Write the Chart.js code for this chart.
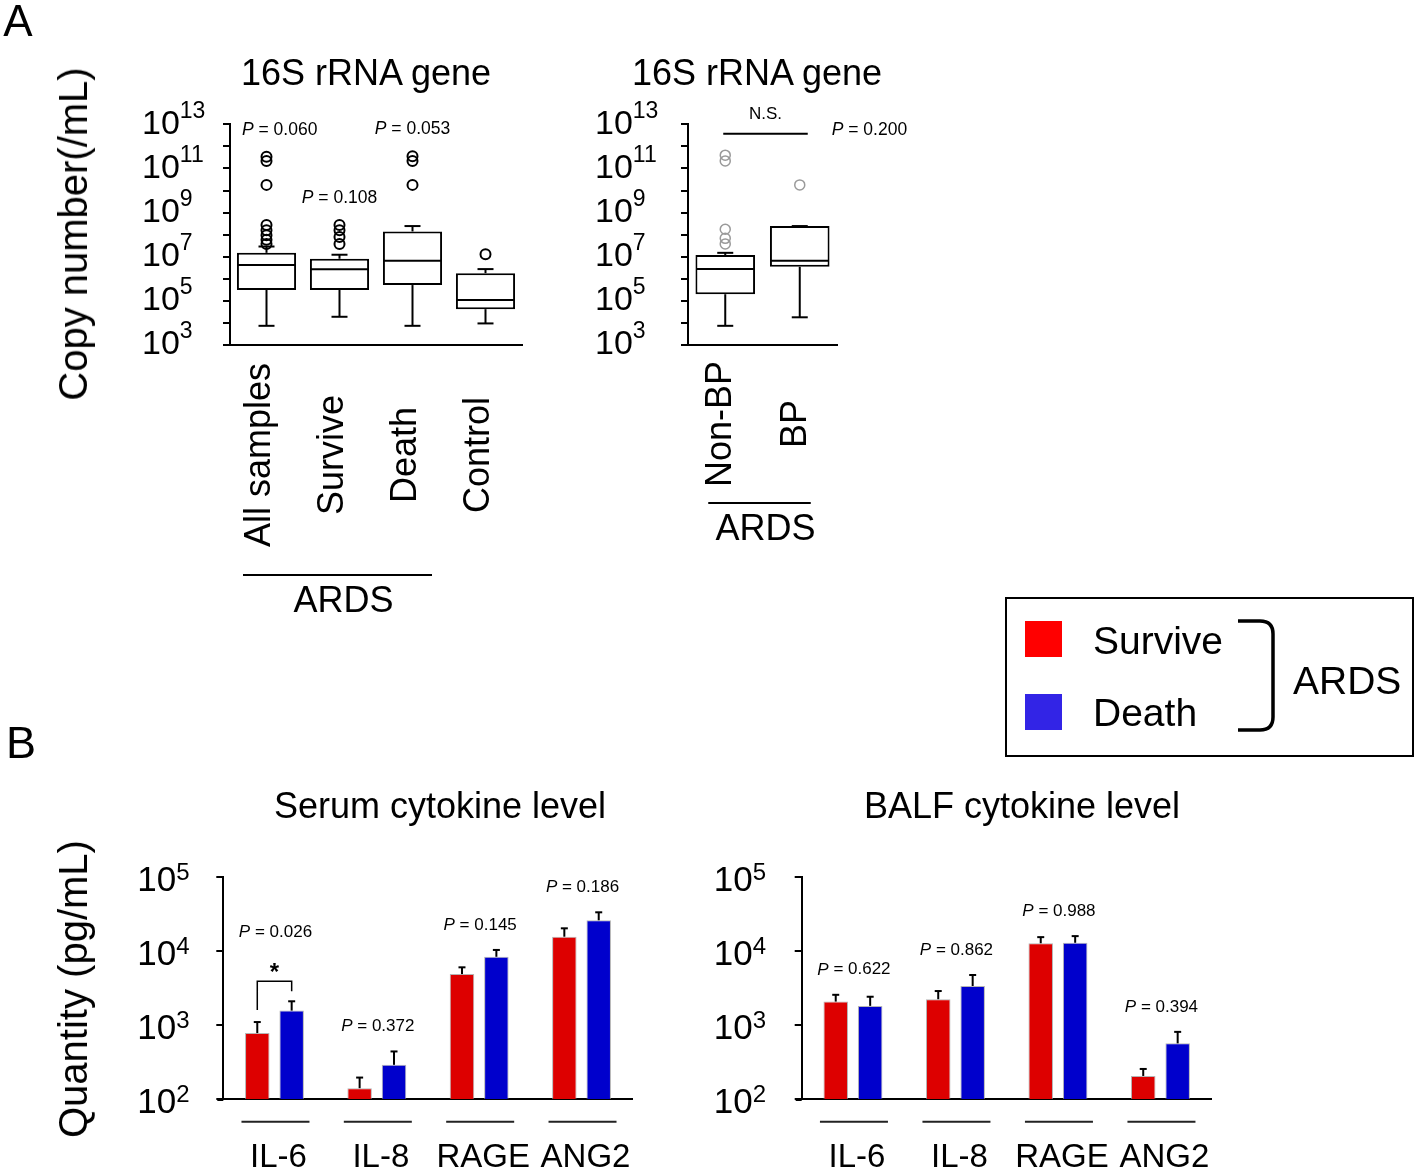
<!DOCTYPE html>
<html>
<head>
<meta charset="utf-8">
<script src="https://cdn.jsdelivr.net/npm/chart.js@4.4.1/dist/chart.umd.min.js"></script>
<style>
html,body{margin:0;padding:0;background:#fff;}
#page{position:relative;width:1418px;height:1172px;overflow:hidden;background:#fff;font-family:"Liberation Sans",Arial,Helvetica,sans-serif;color:#000;}
#page canvas{position:absolute;left:0;top:0;}
.t{position:absolute;transform:translate(-50%,-50%);line-height:1;white-space:nowrap;}
.tl{position:absolute;transform:translateY(-50%);line-height:1;white-space:nowrap;}
.rot{transform:translate(-50%,-50%) rotate(-90deg);}
</style>
</head>
<body>
<div id="page">
  <canvas id="cA1" width="1418" height="1172"></canvas>
  <canvas id="cA2" width="1418" height="1172"></canvas>
  <canvas id="cB1" width="1418" height="1172"></canvas>
  <canvas id="cB2" width="1418" height="1172"></canvas>

  <div class="t" style="left:18px;top:21px;font-size:44px">A</div>
  <div class="t" style="left:21px;top:742px;font-size:45px">B</div>
  <div class="t" style="left:366px;top:73px;font-size:36px">16S rRNA gene</div>
  <div class="t" style="left:757px;top:73px;font-size:36px">16S rRNA gene</div>
  <div class="t" style="left:440px;top:806px;font-size:36px">Serum cytokine level</div>
  <div class="t" style="left:1022px;top:806px;font-size:36px">BALF cytokine level</div>
  <div class="t rot" style="left:73px;top:234px;font-size:40px">Copy number(/mL)</div>
  <div class="t rot" style="left:73px;top:989px;font-size:40px">Quantity (pg/mL)</div>

  <div id="legend" style="position:absolute;left:1005px;top:597px;width:409px;height:160px;border:2px solid #000;box-sizing:border-box;"></div>
  <svg style="position:absolute;left:1230px;top:610px" width="60" height="130">
    <path d="M8 11 H30 Q43 11 43 24 V107 Q43 120 30 120 H8" fill="none" stroke="#000" stroke-width="3.5"/>
  </svg>
  <div class="tl" style="left:1293px;top:680px;font-size:39px">ARDS</div>
</div>

<script>
// ===================== DATA =====================
// Panel A (left): 16S rRNA gene copy number, box plots
const catsA1 = ['All samples', 'Survive', 'Death', 'Control'];
const q1A1   = [3.1e5, 3.1e5, 5.2e5, 4.2e4];
const medA1  = [4.2e6, 2.7e6, 6.6e6, 1.1e5];
const q3A1   = [1.5e7, 8.1e6, 1.4e8, 1.8e6];
const loA1   = [7.4e3, 1.9e4, 7.4e3, 9.5e3];
const hiA1   = [2.9e7, 1.23e7, 2.45e8, 2.75e6];
const outA1  = [[3.4e11, 2.2e11, 1.8e10, 2.75e8, 1.6e8, 9.5e7, 5.8e7, 3.8e7],
                [2.75e8, 1.6e8, 7.9e7, 3.8e7],
                [3.6e11, 2.2e11, 1.8e10],
                [1.3e7]];
const pA1    = ['0.060', '0.108', '0.053', null];
const groupA1 = 'ARDS';

// Panel A (right): Non-BP vs BP
const catsA2 = ['Non-BP', 'BP'];
const q1A2   = [2.0e5, 3.5e6];
const medA2  = [2.75e6, 6.6e6];
const q3A2   = [1.2e7, 2.45e8];
const loA2   = [7.4e3, 1.8e4];
const hiA2   = [1.5e7, 2.45e8];
const outA2  = [[4.0e11, 2.2e11, 1.75e8, 6.8e7, 3.8e7], [1.8e10]];
const pA2    = '0.200';
const nsA2   = 'N.S.';

const copyTickExps  = [3, 4, 5, 6, 7, 8, 9, 10, 11, 12, 13];
const copyLabelExps = [3, 5, 7, 9, 11, 13];

// Panel B: cytokine levels (mean with error)
const seriesNames = ['Survive', 'Death'];
const cytoCats = ['IL-6', 'IL-8', 'RAGE', 'ANG2'];
const serumSurvive    = [780, 140, 4900, 15700];
const serumSurviveErr = [1100, 195, 6050, 20400];
const serumDeath      = [1570, 290, 8400, 26200];
const serumDeathErr   = [2100, 440, 10400, 33600];
const serumP          = ['0.026', '0.372', '0.145', '0.186'];
const balfSurvive     = [2080, 2240, 12800, 205];
const balfSurviveErr  = [2570, 2890, 15500, 255];
const balfDeath       = [1820, 3380, 13000, 566];
const balfDeathErr    = [2420, 4760, 16000, 810];
const balfP           = ['0.622', '0.862', '0.988', '0.394'];
const quantTickExps   = [2, 3, 4, 5];

// ===================== STYLE / HELPERS =====================
const FONT = '"Liberation Sans", Arial, Helvetica, sans-serif';
Chart.defaults.font.family = FONT;
Chart.defaults.color = '#000';
const RED = 'rgb(221,0,0)', BLUE = 'rgb(0,0,204)';
const LEG_RED = '#ff0000', LEG_BLUE = 'rgb(50,36,230)';
const W = 1418, H = 1172;

function seg(ctx, x1, y1, x2, y2) { ctx.beginPath(); ctx.moveTo(x1, y1); ctx.lineTo(x2, y2); ctx.stroke(); }

function pText(ctx, val, x, cy, size, align, minLeft) {
  const rest = ' = ' + val;
  ctx.font = 'italic ' + size + 'px ' + FONT; const wp = ctx.measureText('P').width;
  ctx.font = size + 'px ' + FONT; const wr = ctx.measureText(rest).width;
  let x0 = align === 'left' ? x : x - (wp + wr) / 2;
  if (minLeft !== undefined && x0 < minLeft) x0 = minLeft;
  ctx.textAlign = 'left'; ctx.textBaseline = 'middle'; ctx.fillStyle = '#000';
  ctx.font = 'italic ' + size + 'px ' + FONT; ctx.fillText('P', x0, cy);
  ctx.font = size + 'px ' + FONT; ctx.fillText(rest, x0 + wp, cy);
}

function powLabels(chart, exps, off, bs, es, bdy, edy) {
  const ctx = chart.ctx, ys = chart.scales.y, x0 = chart.chartArea.left - off;
  ctx.save(); ctx.fillStyle = '#000'; ctx.textAlign = 'left'; ctx.textBaseline = 'middle';
  exps.forEach(e => {
    const py = ys.getPixelForValue(Math.pow(10, e));
    ctx.font = bs + 'px ' + FONT; ctx.fillText('10', x0, py + bdy);
    const w = ctx.measureText('10').width;
    ctx.font = es + 'px ' + FONT; ctx.fillText(String(e), x0 + w, py + edy);
  });
  ctx.restore();
}

function logY(min, max, exps) {
  return {
    type: 'logarithmic', min: min, max: max,
    afterBuildTicks: s => { s.ticks = exps.map(e => ({ value: Math.pow(10, e) })); },
    afterFit: s => { s.width = 10; },
    ticks: { display: false },
    grid: { display: true, drawOnChartArea: false, drawTicks: true, tickLength: 7, color: '#000', lineWidth: 2 },
    border: { display: true, color: '#000', width: 2 }
  };
}

function padFor(area, xh) {
  return { left: area.l - 10, top: area.t, right: W - area.r, bottom: H - area.b - xh };
}

const baseOpts = { responsive: false, animation: false, devicePixelRatio: 1, events: [] };

// ===================== BOX PLOT CHARTS =====================
function boxChart(id, cats, q1, med, q3, lo, hi, outs, area, look, extra) {
  const outPts = [];
  outs.forEach((arr, i) => arr.forEach(v => outPts.push({ x: cats[i], y: v })));
  const plugin = {
    id: 'boxExtras',
    afterDatasetDraw(chart, args) {
      if (args.index !== 0) return;
      const ctx = chart.ctx, ys = chart.scales.y, meta = chart.getDatasetMeta(0);
      ctx.save(); ctx.strokeStyle = '#000'; ctx.lineWidth = 2;
      meta.data.forEach((bar, i) => {
        const x = bar.x, w = bar.width;
        const pm = ys.getPixelForValue(med[i]);
        const p1 = ys.getPixelForValue(q1[i]), p3 = ys.getPixelForValue(q3[i]);
        const pl = ys.getPixelForValue(lo[i]), ph = ys.getPixelForValue(hi[i]);
        seg(ctx, x - w / 2 + 1, pm, x + w / 2 - 1, pm);
        if (ph < p3 - 0.5) seg(ctx, x, p3, x, ph);
        seg(ctx, x - 8, ph, x + 8, ph);
        seg(ctx, x, p1, x, pl);
        seg(ctx, x - 8, pl, x + 8, pl);
      });
      ctx.restore();
    },
    afterDraw(chart) {
      powLabels(chart, copyLabelExps, look.labOff, 34, 23, 0, -13);
      extra(chart);
    }
  };
  return new Chart(document.getElementById(id), {
    type: 'bar',
    data: {
      labels: cats,
      datasets: [
        { type: 'bar', label: 'IQR', data: cats.map((c, i) => [q1[i], q3[i]]),
          backgroundColor: '#fff', borderColor: '#000', borderWidth: 2, borderSkipped: false,
          barPercentage: look.barPct, categoryPercentage: 1, order: 1 },
        { type: 'line', label: 'Outliers', data: outPts, showLine: false,
          pointRadius: 5, pointBorderWidth: look.outW, pointBorderColor: look.outColor,
          pointBackgroundColor: 'rgba(255,255,255,0)', order: 0, clip: false }
      ]
    },
    options: Object.assign({}, baseOpts, {
      layout: { padding: padFor(area, 10) },
      plugins: { legend: { display: false }, tooltip: { enabled: false } },
      scales: {
        x: { type: 'category', offset: true, afterFit: s => { s.height = 10; },
             ticks: { display: false }, grid: { display: false },
             border: { display: true, color: '#000', width: 2 } },
        y: logY(1e3, 1e13, copyTickExps)
      }
    }),
    plugins: [plugin]
  });
}

function rotLabels(chart, cats, cy, dx, size) {
  const ctx = chart.ctx, xs = chart.scales.x;
  ctx.save(); ctx.fillStyle = '#000'; ctx.font = size + 'px ' + FONT;
  ctx.textAlign = 'center'; ctx.textBaseline = 'middle';
  cats.forEach((c, i) => {
    ctx.save(); ctx.translate(xs.getPixelForValue(i) + dx, cy); ctx.rotate(-Math.PI / 2);
    ctx.fillText(c, 0, 0); ctx.restore();
  });
  ctx.restore();
}

function groupLine(chart, i0, i1, d0, d1, y, label, ly) {
  const ctx = chart.ctx, xs = chart.scales.x;
  const x0 = xs.getPixelForValue(i0) - d0, x1 = xs.getPixelForValue(i1) + d1;
  ctx.save(); ctx.strokeStyle = '#000'; ctx.lineWidth = 2; seg(ctx, x0, y, x1, y);
  ctx.fillStyle = '#000'; ctx.font = '36px ' + FONT; ctx.textAlign = 'center'; ctx.textBaseline = 'middle';
  ctx.fillText(label, (x0 + x1) / 2 + 6, ly);
  ctx.restore();
}

boxChart('cA1', catsA1, q1A1, medA1, q3A1, loA1, hiA1, outA1,
  { l: 230, r: 522, t: 124.3, b: 345 },
  { barPct: 0.81, outW: 2, outColor: '#000', labOff: 88 },
  chart => {
    const ctx = chart.ctx, ys = chart.scales.y, xs = chart.scales.x;
    pA1.forEach((p, i) => {
      if (!p) return;
      const top = Math.max(hiA1[i], ...outA1[i]);
      pText(ctx, p, xs.getPixelForValue(i), ys.getPixelForValue(top) - 27, 17.5, 'center', chart.chartArea.left + 12);
    });
    rotLabels(chart, catsA1, 455, -6, 36);
    groupLine(chart, 0, 2, 23.5, 19.5, 575, groupA1, 602);
  });

boxChart('cA2', catsA2, q1A2, medA2, q3A2, loA2, hiA2, outA2,
  { l: 688, r: 837, t: 124.3, b: 345 },
  { barPct: 0.8, outW: 1.5, outColor: '#9a9a9a', labOff: 93 },
  chart => {
    const ctx = chart.ctx, xs = chart.scales.x;
    const ly = chart.chartArea.top + 9.5;
    const x0 = xs.getPixelForValue(0) - 2, x1 = xs.getPixelForValue(1) + 8;
    ctx.save(); ctx.strokeStyle = '#000'; ctx.lineWidth = 2; seg(ctx, x0, ly, x1, ly);
    ctx.fillStyle = '#000'; ctx.font = '17px ' + FONT; ctx.textAlign = 'center'; ctx.textBaseline = 'middle';
    ctx.fillText(nsA2, (x0 + x1) / 2, ly - 19);
    ctx.restore();
    pText(ctx, pA2, x1 + 24, ly - 4, 17.5, 'left');
    rotLabels(chart, catsA2, 424, -4, 36);
    groupLine(chart, 0, 1, 17, 11, 503, groupA1, 530);
  });

// ===================== BAR CHARTS =====================
function barChart(id, area, surv, survErr, death, deathErr, pvals, bracketIdx) {
  const errs = [survErr, deathErr];
  const plugin = {
    id: 'barExtras',
    afterDatasetsDraw(chart) {
      const ctx = chart.ctx, ys = chart.scales.y;
      ctx.save(); ctx.strokeStyle = '#000'; ctx.lineWidth = 2;
      [0, 1].forEach(d => {
        chart.getDatasetMeta(d).data.forEach((bar, i) => {
          const pe = ys.getPixelForValue(errs[d][i]);
          seg(ctx, bar.x, bar.y, bar.x, pe);
          seg(ctx, bar.x - 3.5, pe, bar.x + 3.5, pe);
        });
      });
      ctx.restore();
    },
    afterDraw(chart) {
      const ctx = chart.ctx, ys = chart.scales.y, xs = chart.scales.x;
      const m0 = chart.getDatasetMeta(0).data, m1 = chart.getDatasetMeta(1).data;
      const ca = chart.chartArea;
      ctx.save(); ctx.strokeStyle = '#000'; ctx.lineWidth = 2;
      seg(ctx, ca.left - 6, ca.bottom + 1, ca.left, ca.bottom + 1);
      ctx.restore();
      powLabels(chart, quantTickExps, area.off, 35, 24, 4, -4);
      pvals.forEach((p, i) => {
        const e0 = ys.getPixelForValue(survErr[i]), e1 = ys.getPixelForValue(deathErr[i]);
        const top = Math.min(e0, e1);
        const cx = xs.getPixelForValue(i);
        if (i === bracketIdx) {
          const by = top - 20;
          ctx.save(); ctx.strokeStyle = '#000'; ctx.lineWidth = 1.5;
          ctx.beginPath(); ctx.moveTo(m0[i].x, e0 - 12); ctx.lineTo(m0[i].x, by);
          ctx.lineTo(m1[i].x, by); ctx.lineTo(m1[i].x, e1 - 10); ctx.stroke();
          ctx.fillStyle = '#000'; ctx.font = 'bold 24px ' + FONT; ctx.textAlign = 'center'; ctx.textBaseline = 'middle';
          ctx.fillText('*', (m0[i].x + m1[i].x) / 2, by - 8);
          ctx.restore();
          pText(ctx, p, cx + 1, top - 69, 17);
        } else {
          pText(ctx, p, cx + 1, top - 25, 17);
        }
        ctx.save(); ctx.strokeStyle = '#222'; ctx.lineWidth = 2;
        seg(ctx, cx - 33, 1121.7, cx + 35, 1121.7);
        ctx.restore();
      });
    }
  };
  return new Chart(document.getElementById(id), {
    type: 'bar',
    data: {
      labels: cytoCats,
      datasets: [
        { label: seriesNames[0], data: surv, backgroundColor: RED, borderColor: 'rgba(150,150,150,0.7)',
          borderWidth: 1, categoryPercentage: 0.672, barPercentage: 0.712 },
        { label: seriesNames[1], data: death, backgroundColor: BLUE, borderColor: 'rgba(150,150,150,0.7)',
          borderWidth: 1, categoryPercentage: 0.672, barPercentage: 0.712 }
      ]
    },
    options: Object.assign({}, baseOpts, {
      layout: { padding: padFor(area, 70) },
      plugins: { legend: { display: false }, tooltip: { enabled: false } },
      scales: {
        x: { type: 'category', offset: true, afterFit: s => { s.height = 70; },
             ticks: { display: true, font: { size: 33 }, color: '#000', padding: 39, labelOffset: 4,
                      maxRotation: 0, minRotation: 0, autoSkip: false },
             grid: { display: false, drawTicks: false },
             border: { display: true, color: '#000', width: 2 } },
        y: logY(1e2, 1e5, quantTickExps)
      }
    }),
    plugins: [plugin]
  });
}

barChart('cB1', { l: 223.3, r: 632.7, t: 877.3, b: 1099, off: 86 },
  serumSurvive, serumSurviveErr, serumDeath, serumDeathErr, serumP, 0);
barChart('cB2', { l: 801.7, r: 1211.7, t: 877.3, b: 1099, off: 88 },
  balfSurvive, balfSurviveErr, balfDeath, balfDeathErr, balfP, -1);

// ===================== LEGEND (HTML) =====================
(function () {
  const page = document.getElementById('page');
  const cols = [LEG_RED, LEG_BLUE];
  const tops = [621, 694], texts = [640, 712];
  seriesNames.forEach((n, i) => {
    const sq = document.createElement('div');
    sq.style.cssText = 'position:absolute;left:1025px;top:' + tops[i] + 'px;width:37px;height:36px;background:' + cols[i];
    page.appendChild(sq);
    const t = document.createElement('div');
    t.className = 'tl'; t.style.left = '1093px'; t.style.top = texts[i] + 'px'; t.style.fontSize = '39px';
    t.textContent = n;
    page.appendChild(t);
  });
})();
</script>
</body>
</html>
